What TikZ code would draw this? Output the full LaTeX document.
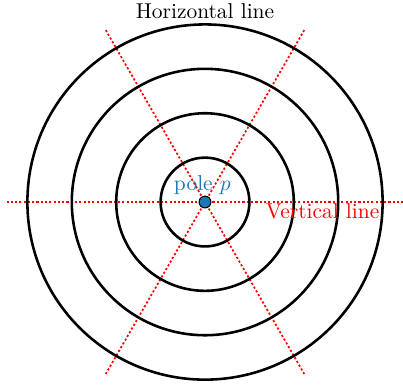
\documentclass[tikz,border=0pt]{standalone}
\usepackage{xcolor}
\usetikzlibrary{positioning}
\definecolor{poleblue}{RGB}{31,119,180}
\tikzset{
  ring/.style={line width=1.2pt, black},
  guide/.style={red, line width=0.8pt, dash pattern=on 1pt off 1pt},
}
\begin{document}
\begin{tikzpicture}[x=0.727cm, y=0.727cm, every node/.append style={font=\normalsize}]
  \useasboundingbox (-4.617,-4.167) rectangle (4.459,4.55);
  % lineas guia
  \foreach \ang in {0,60,120} {
    \draw[guide] (\ang:4.47) -- (\ang+180:4.47);
  }
  % circulos
  \foreach \r in {1,2,3,4} {
    \draw[ring] (0,0) circle (\r);
  }
  % polo
  \node[circle, draw=black, fill=poleblue, inner sep=0pt, minimum size=5.5pt, line width=0.5pt] (pole) at (0,0) {};
  \node[text=poleblue, anchor=base] (polelabel) at (-0.06,0.27) {pole $p$};
  % etiquetas
  \node[red, anchor=base] (vlabel) at (2.65,-0.36) {Vertical line};
  \node[anchor=base] (hlabel) at (0,4.14) {Horizontal line};
\end{tikzpicture}
\end{document}
